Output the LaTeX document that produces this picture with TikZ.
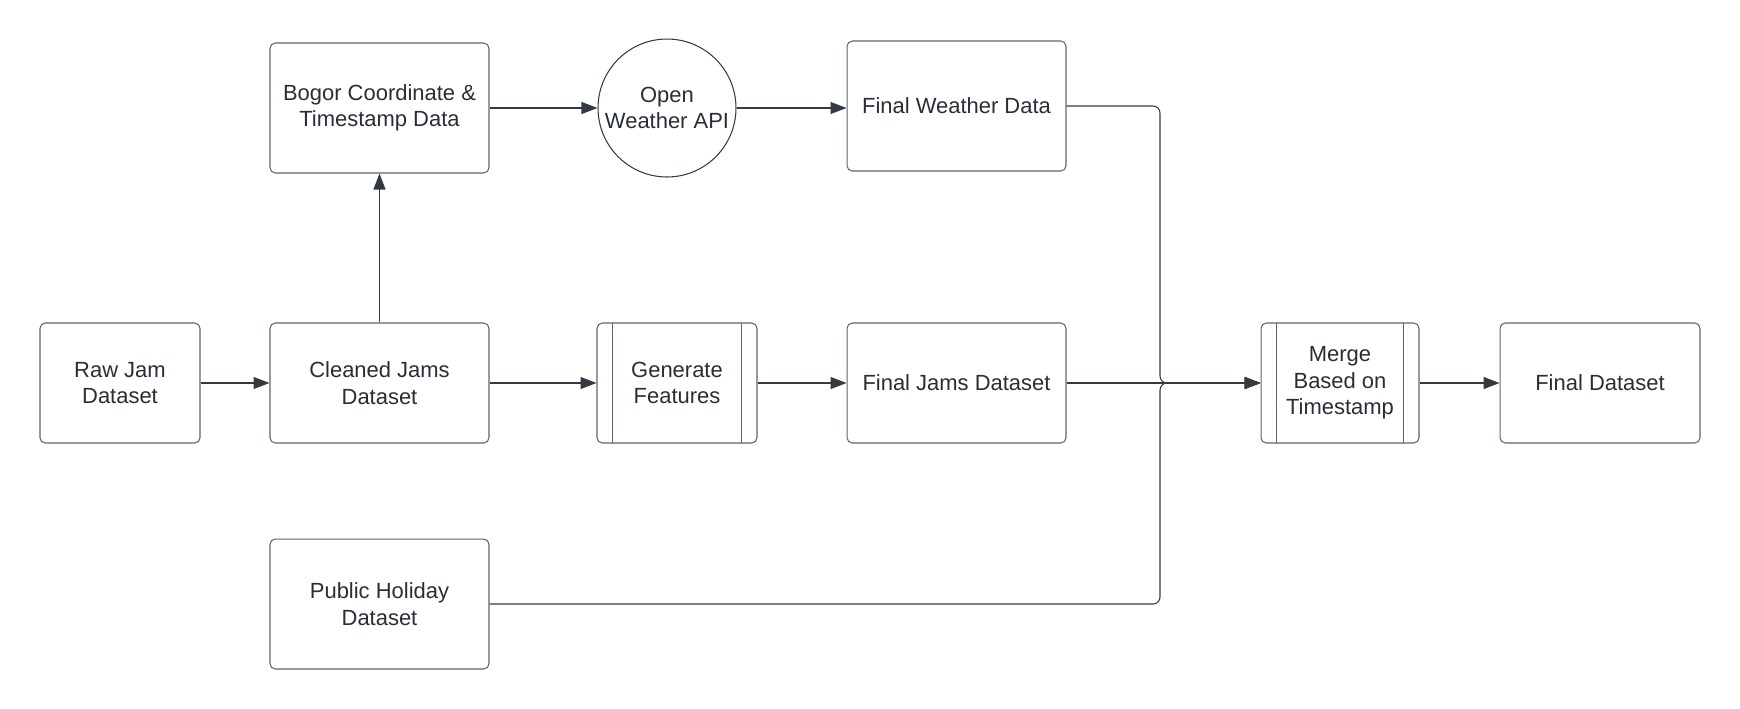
\documentclass[tikz,border=0pt]{standalone}
\usepackage{fontspec}
\setmainfont{Liberation Sans}
\usetikzlibrary{arrows.meta,positioning}
\definecolor{txt}{RGB}{40,46,56}
\definecolor{edge}{RGB}{96,100,108}
\definecolor{wire}{RGB}{52,58,66}
\tikzstyle{box}=[draw=edge, rounded corners=3pt, align=center, text=txt, minimum width=4.38cm, minimum height=2.4cm, line width=0.6pt]
\tikzstyle{tall}=[box, minimum height=2.6cm]
\tikzstyle{api}=[draw=wire, circle, align=center, text=txt, minimum size=2.76cm, inner sep=0pt, line width=0.6pt]
\tikzstyle{proc}=[box, minimum width=3.2cm, path picture={
  \draw[edge, line width=0.6pt] ([xshift=0.31cm]path picture bounding box.north west) -- ([xshift=0.31cm]path picture bounding box.south west);
  \draw[edge, line width=0.6pt] ([xshift=-0.31cm]path picture bounding box.north east) -- ([xshift=-0.31cm]path picture bounding box.south east);}]
\tikzstyle{link}=[wire, line width=0.6pt, -{Triangle[length=0.32cm,width=0.24cm]}]

\begin{document}
\begin{tikzpicture}[x=0.02cm, y=-0.02cm, font=\fontsize{12.5}{15}\selectfont]
    \useasboundingbox (0,0) rectangle (1740,708);
    \node [box, minimum width=3.2cm] (raw) at (120,383) {Raw Jam\\Dataset};
    \node [box] (clean) at (379.5,383) {Cleaned Jams\\Dataset};
    \node [tall] (bogor) at (379.5,108) {Bogor Coordinate \&\\Timestamp Data};
    \node [api] (owm) at (667,108) {Open\\Weather API};
    \node [tall] (weather) at (956.5,106) {Final Weather Data};
    \node [proc] (gen) at (677,383) {Generate\\Features};
    \node [box] (jams) at (956.5,383) {Final Jams Dataset};
    \node [proc, minimum width=3.16cm] (merge) at (1340,383) {Merge\\Based on\\Timestamp};
    \node [box, minimum width=4cm] (final) at (1600,383) {Final Dataset};
    \node [tall] (holiday) at (379.5,604) {Public Holiday\\Dataset};
    \coordinate (join) at (1160,383);
    \draw [link] (raw) -- (clean);
    \draw [link] (clean) -- (bogor);
    \draw [link] (bogor.east) -- (bogor.east -| owm.west);
    \draw [link] (owm.east |- bogor.east) -- (weather.west |- bogor.east);
    \draw [link] (clean) -- (gen);
    \draw [link] (gen) -- (jams);
    \draw [link] (jams) -- (merge);
    \draw [link] (merge) -- (final);
    \draw [link, rounded corners=4pt] (weather.east) -| (join) -- (merge.west);
    \draw [link, rounded corners=4pt] (holiday.east) -| (join) -- (merge.west);
\end{tikzpicture}
\end{document}
